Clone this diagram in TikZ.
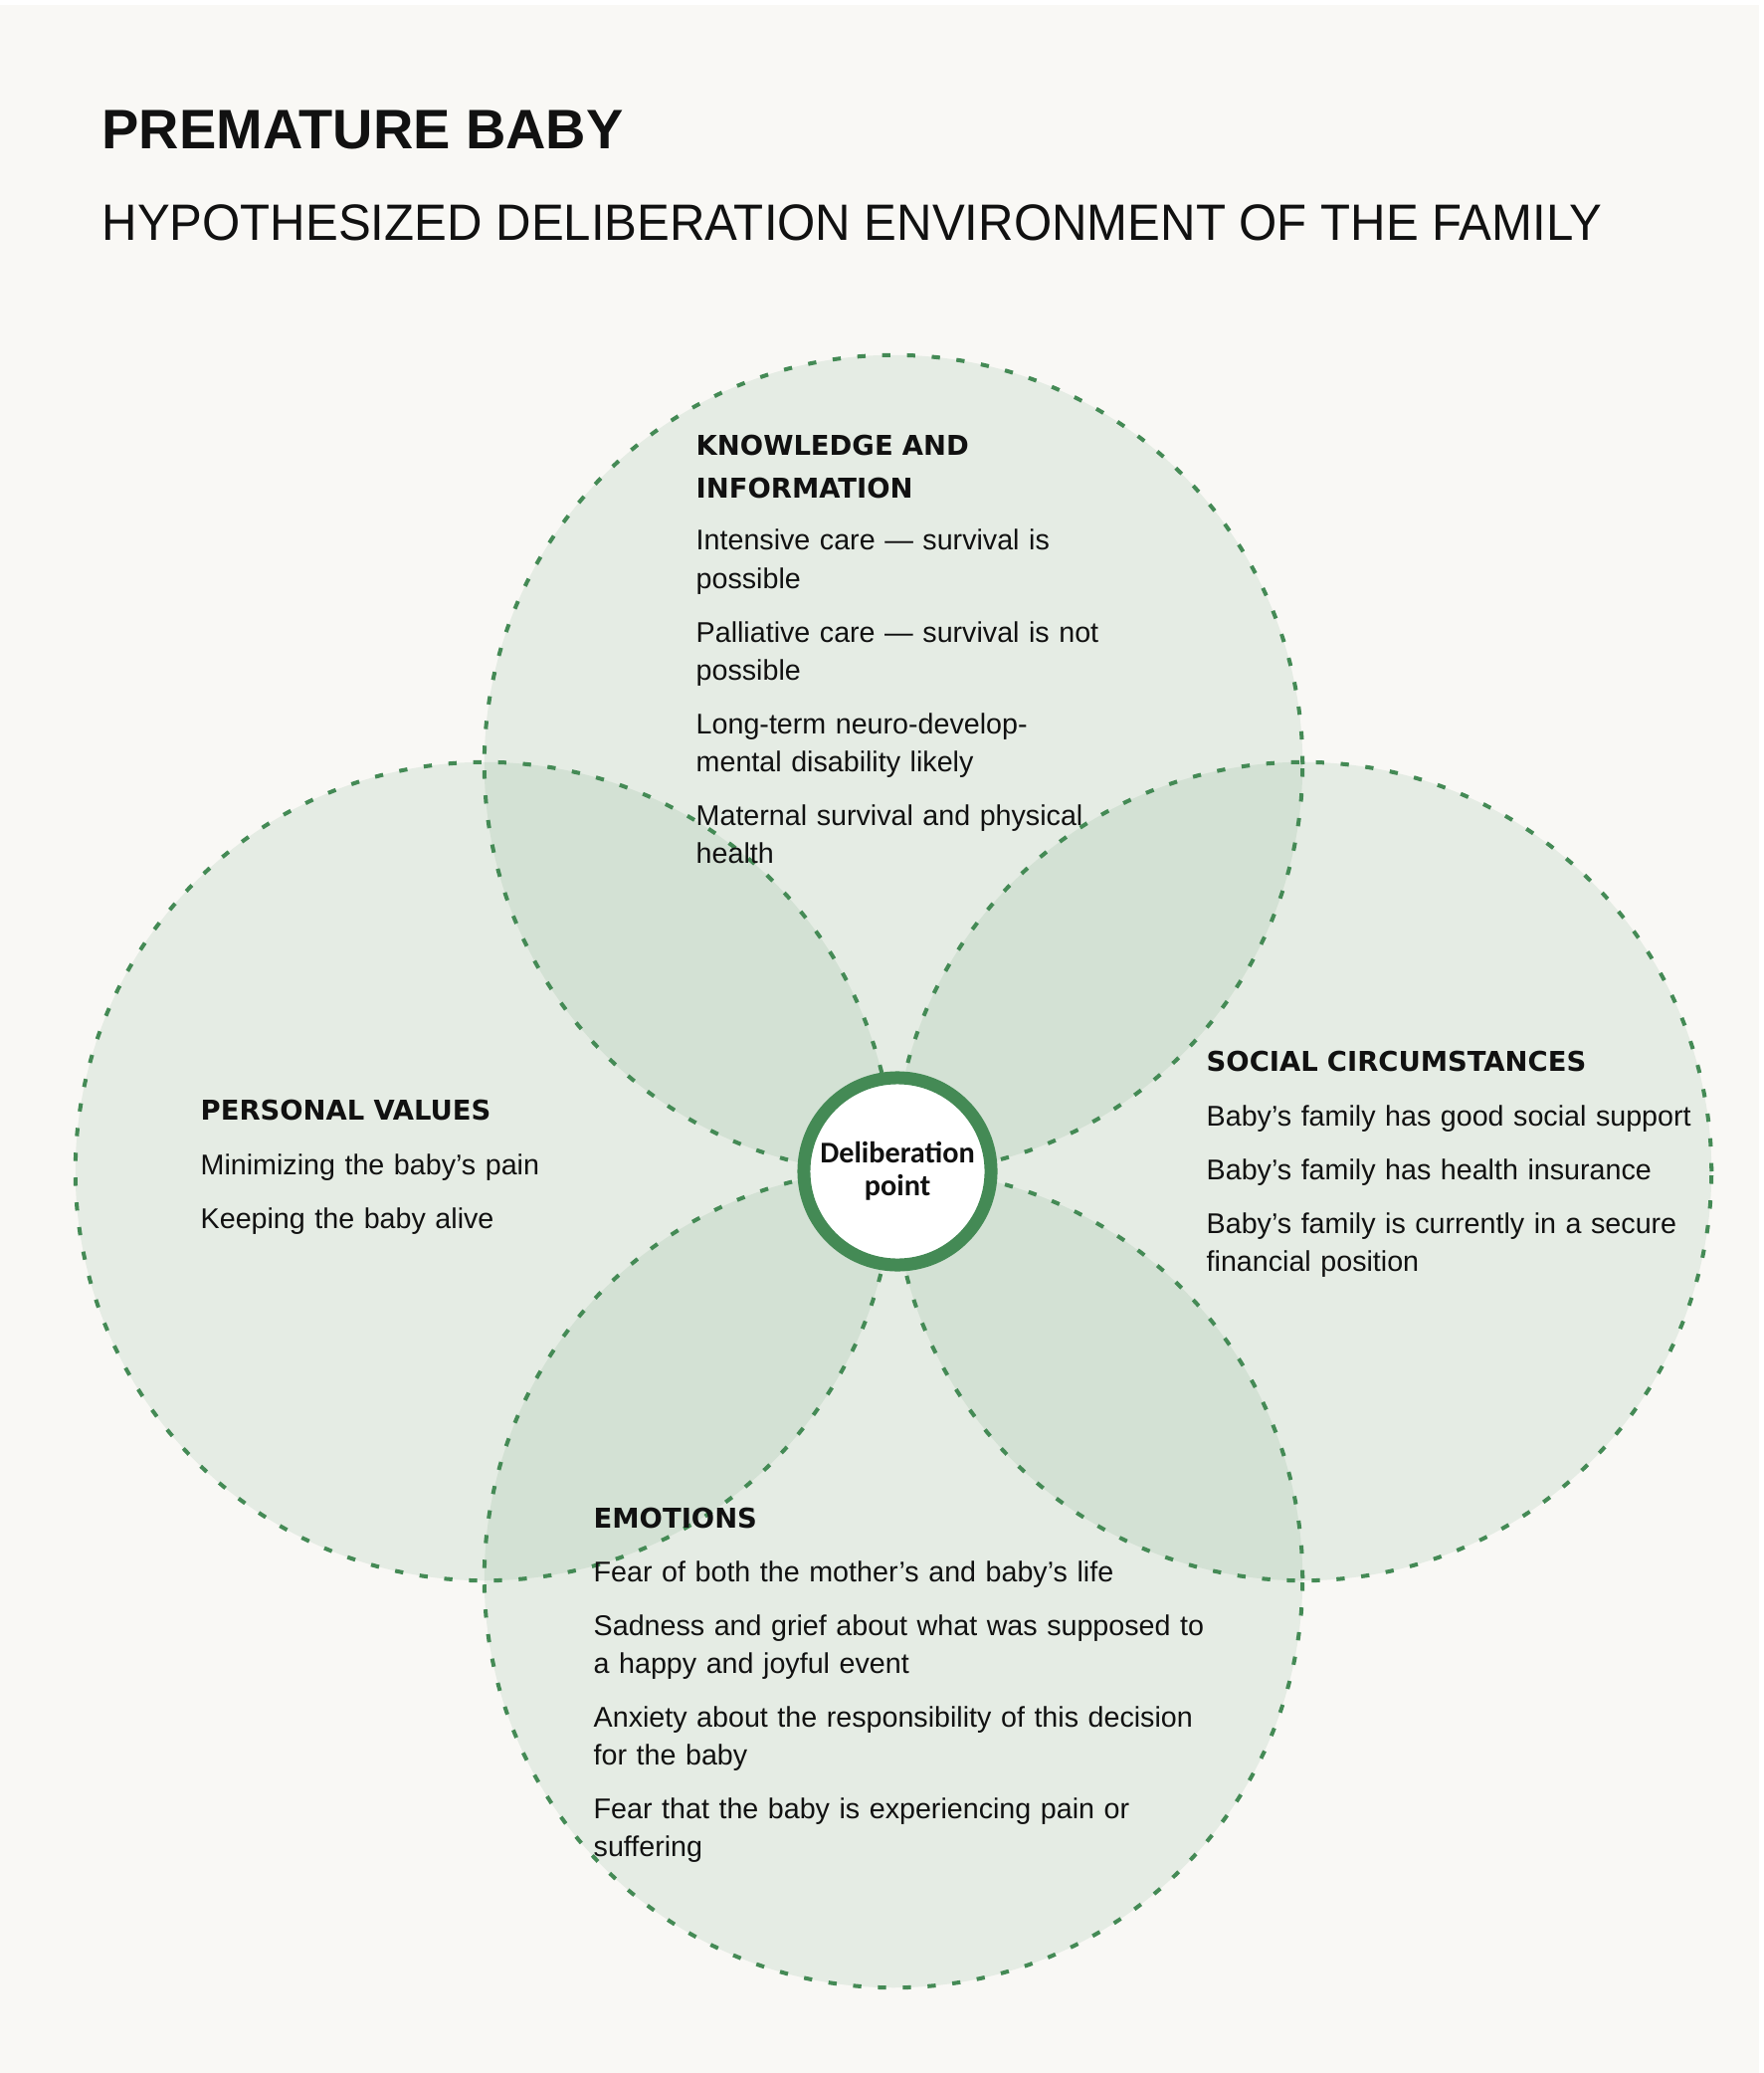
\documentclass[tikz,border=0pt]{standalone}
\usepackage{fontspec}
\setmainfont{Liberation Sans}
\newfontfamily\headfont{DejaVu Sans}
\newfontfamily\subfont[FakeStretch=0.957]{Liberation Sans}
\newfontfamily\pointfont{Carlito}
\usepackage{tikz}
\definecolor{paper}{HTML}{F9F8F5}
\definecolor{leaf}{HTML}{448A55}
\definecolor{ink}{HTML}{111111}

\begin{document}
\begin{tikzpicture}[x=0.01cm, y=0.01cm,
    petal/.style={fill=leaf, fill opacity=0.105},
    petalline/.style={draw=leaf, line width=1.14pt, dash pattern=on 2.36pt off 4.74pt},
    headtext/.style={anchor=base west, inner sep=0, text width=6.5cm, align=left, text=ink,
        font=\headfont\bfseries\fontsize{7.8}{11.95}\selectfont},
    itemtext/.style={anchor=base west, inner sep=0, text width=6.8cm, align=left, text=ink,
        font=\fontsize{8.15}{10.82}\selectfont}]
    \useasboundingbox (0,0) rectangle (1772,-2083);
    \fill[white] (0,0) rectangle (1772,-2083);
    \fill[paper] (0,-5) rectangle (1768,-2083);

    % title
    \node[anchor=base west, inner sep=0, text=ink, font=\bfseries\fontsize{15.9}{19}\selectfont] (title) at (102,-150) {PREMATURE BABY};
    \node[anchor=base west, inner sep=0, text=ink, font=\subfont\fontsize{14.6}{17}\selectfont] (subtitle) at (102,-242) {HYPOTHESIZED DELIBERATION ENVIRONMENT OF THE FAMILY};

    % four petals round the deliberation point
    \coordinate (mid) at (898,-1177);
    \foreach \dx/\dy in {0/409,-411/0,411/0,0/-409}
        \fill[petal] ([shift={(\dx,\dy)}]mid) circle[radius=4.11cm];
    \foreach \dx/\dy in {0/409,-411/0,411/0,0/-409}
        \draw[petalline] ([shift={(\dx,\dy)}]mid) circle[radius=4.11cm];

    \node[circle, draw=leaf, line width=0.13cm, fill=white, minimum size=1.88cm, inner sep=0,
        align=center, text=ink, font=\pointfont\bfseries\fontsize{8.6}{9.4}\selectfont] (point) at (902,-1177) {Deliberation\\point};

    % knowledge
    \node[headtext] (knowhead) at (699,-458) {KNOWLEDGE AND\\INFORMATION};
    \node[itemtext] (knowtext) at (699,-553) {Intensive care — survival is\\possible\\[4.55pt]
        Palliative care — survival is not\\possible\\[4.55pt]
        Long-term neuro-develop-\\mental disability likely\\[4.55pt]
        Maternal survival and physical\\health};

    % personal values
    \node[headtext] (valhead) at (201,-1125) {PERSONAL VALUES};
    \node[itemtext] (valtext) at (201,-1180) {Minimizing the baby’s pain\\[4.55pt]
        Keeping the baby alive};

    % social circumstances
    \node[headtext] (sochead) at (1212,-1076) {SOCIAL CIRCUMSTANCES};
    \node[itemtext] (soctext) at (1212,-1131) {Baby’s family has good social support\\[4.55pt]
        Baby’s family has health insurance\\[4.55pt]
        Baby’s family is currently in a secure\\financial position};

    % emotions
    \node[headtext] (emohead) at (596,-1535) {EMOTIONS};
    \node[itemtext] (emotext) at (596,-1589) {Fear of both the mother’s and baby’s life\\[4.55pt]
        Sadness and grief about what was supposed to\\a happy and joyful event\\[4.55pt]
        Anxiety about the responsibility of this decision\\for the baby\\[4.55pt]
        Fear that the baby is experiencing pain or\\suffering};
\end{tikzpicture}
\end{document}
